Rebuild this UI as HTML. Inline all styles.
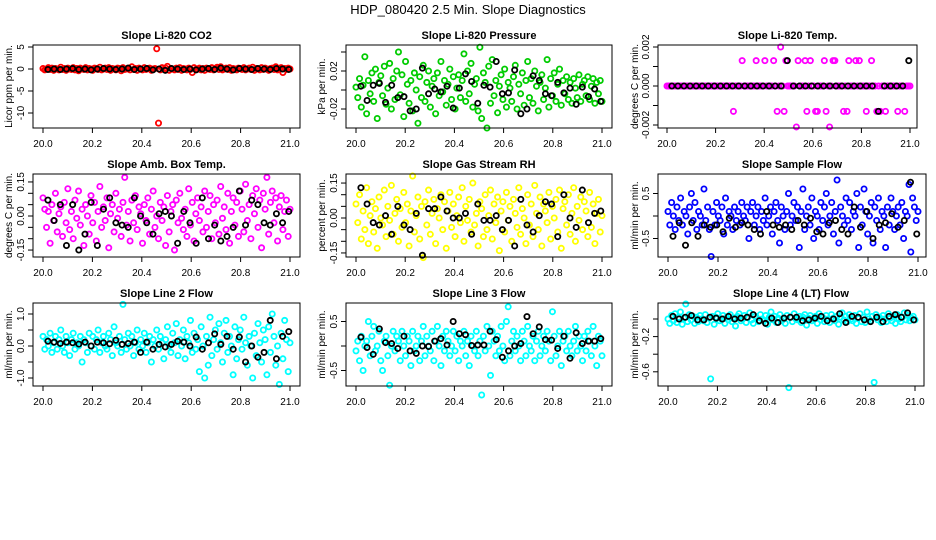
<!DOCTYPE html>
<html><head><meta charset="utf-8"><style>
html,body{margin:0;padding:0;background:#fff;}
svg{display:block;font-family:"Liberation Sans",Arial,sans-serif;}
</style></head><body>
<svg id="chart" width="936" height="540" viewBox="0 0 936 540" xmlns="http://www.w3.org/2000/svg">
<rect width="936" height="540" fill="#fff"/>
<text x="468" y="14" font-size="13" text-anchor="middle">HDP_080420  2.5 Min. Slope Diagnostics</text>
</svg>
<script>
// ---- data ----
const xTickLabels = ["20.0","20.2","20.4","20.6","20.8","21.0"];
const xTickValues = [20.0,20.2,20.4,20.6,20.8,21.0];
const titles = ["Slope Li-820 CO2","Slope Li-820 Pressure","Slope Li-820 Temp.","Slope Amb. Box Temp.","Slope Gas Stream RH","Slope Sample Flow","Slope Line 2 Flow","Slope Line 3 Flow","Slope Line 4 (LT) Flow"];
const yTitles = ["Licor ppm per min.","kPa per min.","degrees C per min.","degrees C per min.","percent per min.","ml/min per min.","ml/min per min.","ml/min per min.","ml/min per min."];
const yTickValues = [[5,0,-5,-10],[0.04,0.02,0,-0.02],[0.002,0.001,0,-0.001,-0.002],[0.15,0.1,0.05,0,-0.05,-0.1,-0.15],[0.15,0.1,0.05,0,-0.05,-0.1,-0.15],[0.5,0,-0.5],[1,0.5,0,-0.5,-1],[0.5,0,-0.5],[0,-0.2,-0.4,-0.6]];
const yTickLabels = [["5","0","-5","-10"],["","0.02","","-0.02"],["0.002","","0.000","","-0.002"],["0.15","","","0.00","","","-0.15"],["0.15","","","0.00","","","-0.15"],["0.5","","-0.5"],["1.0","","0.0","","-1.0"],["0.5","","-0.5"],["","-0.2","","-0.6"]];
const seriesColors = ["#ff0000","#00cc00","#ff00ff","#ff00ff","#ffff00","#0000ff","#00ffff","#00ffff","#00ffff"];

const co2Vals = [0.1,-0.2,0.0,0.3,-0.1,0.2,-0.3,0.1,0.0,-0.2,0.4,-0.1,0.1,-0.3,0.2,0.0,-0.1,0.3,-0.2,0.1,
-0.4,0.2,0.0,-0.1,0.3,-0.2,0.1,0.0,-0.3,0.2,0.1,-0.1,0.4,-0.2,0.0,0.2,-0.1,0.3,-0.3,0.1,
0.0,-0.2,0.2,0.1,-0.4,0.3,-0.1,0.0,0.2,-0.2,0.5,-0.1,0.1,-0.3,0.2,0.0,-0.2,0.3,-0.1,0.1,
0.2,-0.3,0.0,0.1,4.6,-12.3,-0.2,0.3,-0.1,0.2,0.6,-0.3,0.1,0.0,-0.2,0.2,-0.1,0.3,-0.3,0.1,
0.0,-0.2,0.2,-0.1,-0.8,0.3,-0.1,0.0,0.2,-0.2,0.1,-0.3,0.2,0.0,-0.1,0.3,-0.2,0.1,0.4,-0.1,
0.5,-0.2,0.0,0.2,-0.1,0.3,-0.3,0.1,0.0,-0.2,0.2,0.1,-0.1,0.3,-0.2,0.0,0.2,-0.1,0.4,-0.3,
0.1,0.0,-0.2,0.3,-0.1,0.2,0.0,-0.3,0.1,0.2,-0.1,0.5,-0.2,0.0,0.3,-0.8,0.1,-0.1,0.2,0.0];
const co2Avg = [-0.1,0.0,-0.1,0.0,0.1,-0.1,0.0,-0.2,0.0,0.1,0.0,-0.1,0.0,0.2,-0.1,0.0,0.1,-0.2,0.0,-0.3,0.1,0.0,-0.1,0.0,-0.2,0.0,0.1,-0.1,0.2,0.0,-0.2,0.1,0.0,-0.1,0.1,0.0,-0.1,0.1,0.0,-0.1];

const presVals = [0.003,-0.008,0.012,-0.018,0.005,0.035,-0.025,0.010,-0.004,0.018,-0.012,0.022,-0.030,0.008,0.015,-0.006,0.025,-0.015,0.002,0.028,
-0.020,0.012,-0.010,0.020,0.040,-0.005,0.016,-0.028,0.030,0.006,-0.014,0.010,-0.022,0.018,0.000,-0.035,0.014,-0.008,0.026,-0.012,
0.008,0.020,-0.018,0.004,0.012,-0.025,0.018,-0.006,0.030,-0.002,0.010,-0.016,0.006,0.022,-0.010,0.014,-0.020,0.002,0.016,-0.008,
0.010,0.038,-0.012,0.020,-0.004,0.028,-0.018,0.006,0.012,-0.022,0.045,-0.030,0.018,0.008,-0.040,0.025,-0.014,0.032,-0.006,0.010,
-0.024,0.004,0.016,-0.010,0.022,-0.018,0.008,0.002,-0.012,0.014,0.026,-0.020,0.006,-0.004,0.018,-0.016,0.010,0.030,-0.008,0.012,
-0.014,0.020,0.004,-0.022,0.008,0.016,-0.010,0.002,0.032,-0.018,0.012,-0.006,0.018,-0.012,0.006,0.022,-0.016,0.010,-0.004,0.014,
-0.010,0.008,-0.014,0.012,0.002,-0.008,0.016,-0.012,0.006,0.010,-0.006,0.014,-0.010,0.004,0.012,-0.014,0.008,-0.004,0.010,-0.012];
const presAvg = [0.004,-0.011,0.005,0.007,-0.013,0.005,-0.008,-0.007,-0.022,-0.020,0.023,-0.004,0.001,-0.002,0.004,-0.019,0.002,0.017,0.009,-0.014,0.005,0.003,0.030,-0.004,-0.003,0.021,-0.025,-0.020,0.015,0.010,-0.004,-0.006,0.008,-0.003,0.002,-0.015,0.003,-0.007,0.001,-0.012];

const tempVals = [0,0,0,0,0,0,0,0,0,0, 0,0,0,0,0,0,0,0,0,0, 0,0,0,0,0,0,0,0,0,0,
0,0,0,0,0,0,0,0,-0.0013,0, 0,0,0,0.0013,0,0,0,0,0,0, 0,0.0013,0,0,0,0,0.0013,0,0,0,
0,0.0013,0,-0.0013,0,0.002,0,-0.0013,0.0013,0, 0,0,0,0,-0.0021,0.0013,0,0,0,0.0013,
-0.0013,0,0.0013,0,0,-0.0013,-0.0013,0,0,0, 0.0013,-0.0013,0,-0.0021,0,0.0013,0.0013,0,0,0,
0,-0.0013,0,-0.0013,0.0013,0,0,0,0.0013,0, 0.0013,0,0,0,-0.0013,0,0,0.0013,0,0,
-0.0013,0,-0.0013,0,0,-0.0013,0,0,0,0, 0,0,-0.0013,0,0,0,-0.0013,0,0,0];
const tempAvg = [0,0,0,0,0,0,0,0,0,0,0,0,0,0,0,0,0,0,0,0.0013,0,0,0,0,0,0,0,0,0,0,0,0,0,0,-0.0013,0,0,0,0,0.0013];

const boxVals = [0.08,0.03,-0.05,0.02,-0.12,0.05,-0.02,0.10,-0.07,0.01,0.04,-0.09,0.06,-0.03,0.12,-0.06,0.02,-0.10,0.07,-0.01,
0.11,-0.04,0.03,-0.13,0.05,0.00,-0.08,0.09,-0.03,0.06,-0.11,0.02,0.13,-0.05,0.04,-0.02,0.08,-0.14,0.01,0.05,
-0.07,0.10,-0.01,0.03,-0.09,0.06,0.17,-0.04,0.02,-0.11,0.07,-0.03,0.09,-0.06,0.04,0.01,-0.12,0.05,-0.02,0.08,
-0.08,0.03,0.11,-0.05,0.00,-0.10,0.06,-0.02,0.04,-0.13,0.09,-0.07,0.02,0.05,-0.15,0.07,-0.03,0.10,-0.01,-0.06,
0.03,-0.09,0.12,-0.04,0.06,-0.11,0.01,0.08,-0.02,0.04,-0.07,0.11,-0.05,0.02,0.09,-0.10,0.05,-0.03,0.07,-0.08,
0.13,-0.01,0.04,-0.06,0.10,-0.12,0.02,0.08,-0.04,0.06,-0.09,0.11,0.03,-0.07,0.14,-0.02,0.05,-0.10,0.09,0.01,
0.12,-0.05,0.07,-0.14,0.10,0.03,0.17,-0.08,0.06,0.11,-0.03,0.08,-0.11,0.04,0.09,-0.06,0.02,0.07,-0.09,0.03];
const boxAvg = [0.07,-0.02,0.05,-0.13,0.05,-0.15,-0.08,0.06,-0.13,0.03,0.08,-0.03,-0.04,-0.05,0.08,0.00,-0.03,-0.08,0.01,0.02,0.00,-0.12,0.02,-0.03,-0.12,0.08,-0.10,-0.04,-0.11,-0.09,-0.05,0.11,-0.04,0.07,0.05,-0.03,-0.04,0.01,-0.03,0.02];

const rhVals = [0.06,-0.02,0.10,-0.09,0.03,-0.05,0.13,-0.11,0.01,0.07,-0.06,0.04,-0.13,0.09,0.00,-0.03,0.12,-0.08,0.05,-0.01,
0.14,-0.07,0.02,0.08,-0.10,0.04,-0.04,0.11,-0.02,0.06,-0.12,0.03,0.18,-0.06,0.01,0.09,-0.09,0.05,-0.17,0.07,
-0.03,0.12,-0.07,0.02,0.08,-0.11,0.04,0.00,0.10,-0.05,0.07,-0.13,0.03,0.11,-0.04,0.06,-0.08,0.01,0.09,-0.02,
0.13,-0.10,0.05,-0.01,0.08,-0.06,0.15,-0.03,0.02,-0.12,0.07,0.04,-0.08,0.10,-0.05,0.01,0.12,-0.09,0.06,-0.02,
0.09,-0.14,0.03,0.07,-0.06,0.11,-0.01,0.05,-0.10,0.08,0.02,-0.04,0.13,-0.07,0.04,0.00,-0.11,0.10,-0.03,0.06,
-0.08,0.14,0.02,-0.05,0.09,-0.12,0.06,0.03,-0.02,0.11,-0.09,0.05,0.00,0.08,-0.06,0.12,-0.13,0.04,0.07,-0.03,
0.10,-0.07,0.02,0.13,-0.10,0.05,-0.01,0.09,-0.05,0.07,0.03,-0.08,0.11,-0.04,0.06,-0.11,0.02,0.08,-0.06,0.01];
const rhAvg = [0.13,0.06,-0.02,-0.03,0.01,-0.07,0.05,-0.03,-0.05,0.02,-0.16,0.04,0.04,0.09,0.03,0.00,0.00,0.02,-0.07,0.06,-0.01,-0.01,0.01,-0.05,-0.01,-0.12,0.08,-0.03,-0.06,0.01,0.07,0.06,-0.08,0.10,0.00,-0.04,0.12,-0.02,0.02,0.03];

const sampleVals = [0.1,-0.2,0.3,0.0,-0.3,0.2,-0.1,0.4,-0.2,0.1,0.0,-0.4,0.2,0.5,-0.1,0.3,-0.3,0.1,0.0,-0.2,
0.6,-0.1,0.2,-0.3,-0.9,0.1,-0.2,0.3,0.0,-0.1,0.2,-0.4,0.4,-0.2,0.1,0.0,-0.3,0.2,-0.1,0.1,
-0.2,0.3,0.0,-0.1,0.2,-0.5,0.1,0.3,-0.2,0.0,0.2,-0.3,0.1,-0.1,0.4,-0.2,0.0,0.2,-0.4,0.1,
0.3,-0.1,-0.6,0.2,0.0,-0.3,0.1,0.5,-0.2,0.0,0.3,-0.1,0.2,-0.7,0.1,0.6,-0.3,0.0,0.2,-0.2,
0.4,-0.5,0.1,0.0,-0.3,0.3,-0.1,0.2,0.5,-0.2,0.0,0.3,-0.4,0.1,0.8,-0.6,0.2,0.0,-0.2,0.4,
-0.1,0.3,-0.3,0.1,0.0,0.5,-0.7,0.2,-0.2,0.6,0.1,-0.4,0.0,0.3,-0.6,0.2,-0.1,0.4,-0.3,0.1,
0.0,-0.7,0.2,-0.2,0.4,0.1,-0.3,0.0,0.2,-0.2,0.3,-0.5,0.1,0.0,0.7,-0.8,0.4,0.2,-0.1,0.1];
const sampleAvg = [-0.45,-0.15,-0.65,-0.15,-0.45,-0.2,-0.25,-0.2,-0.35,-0.05,-0.25,-0.15,-0.2,-0.3,-0.4,0.1,-0.2,-0.25,-0.2,-0.3,-0.1,-0.2,-0.05,-0.35,-0.4,-0.15,-0.1,-0.3,-0.4,0.2,-0.25,0.1,-0.5,-0.2,-0.15,0.05,-0.25,-0.1,0.75,-0.4];

const line2Vals = [0.3,-0.1,0.2,0.0,0.4,-0.2,0.1,0.3,-0.1,0.2,0.5,0.0,-0.2,0.3,0.1,-0.3,0.2,0.4,-0.1,0.1,
0.0,0.3,-0.5,0.2,0.1,-0.2,0.4,0.0,0.3,-0.1,0.2,0.5,-0.2,0.1,0.3,0.0,-0.1,0.4,0.2,-0.3,
0.6,0.1,0.0,0.3,-0.2,1.3,0.2,-0.1,0.4,0.0,0.3,-0.3,0.1,0.5,-0.1,0.2,0.0,0.4,-0.2,0.1,
0.3,-0.5,0.2,0.0,0.5,-0.1,0.3,0.1,-0.4,0.2,0.6,0.0,-0.2,0.4,0.1,0.7,-0.3,0.2,0.0,0.5,
-0.4,0.3,0.1,0.8,-0.2,0.4,-0.1,0.2,-0.8,0.6,0.0,-1.0,0.3,-0.6,0.9,-0.3,0.2,0.5,-0.1,0.7,
0.1,-0.5,0.4,0.8,-0.2,0.3,0.0,-0.9,0.6,-0.4,0.2,0.5,-0.1,0.9,0.1,-0.6,0.3,0.0,-1.0,0.4,
-0.3,0.7,0.1,-0.5,0.5,0.2,-0.9,0.6,-0.2,1.0,0.3,-0.6,0.0,-1.2,0.4,-0.4,0.8,0.2,-0.8,0.1];
const line2Avg = [0.15,0.12,0.08,0.12,0.1,0.06,0.12,0.0,0.12,0.1,0.07,0.18,0.05,0.08,0.12,-0.2,0.12,-0.1,0.05,-0.03,0.05,0.15,0.12,0.0,0.28,-0.1,0.1,0.38,0.05,0.3,-0.1,0.28,-0.5,0.0,-0.35,-0.2,0.8,-0.4,0.3,0.45];

const line3Vals = [-0.1,0.1,-0.3,0.2,-0.5,0.0,0.1,0.5,-0.2,0.2,0.4,-0.1,0.0,0.3,-0.3,-0.5,0.1,0.2,-0.2,-0.8,
0.0,0.3,-0.1,0.2,0.1,-0.3,0.3,0.0,-0.2,0.2,0.1,-0.4,0.3,-0.1,0.0,0.2,-0.3,0.1,0.4,-0.2,
0.2,0.0,-0.1,0.3,-0.3,0.1,0.4,0.0,-0.4,0.2,-0.1,0.3,0.1,-0.2,0.0,0.3,-0.1,0.2,-0.3,0.1,
0.0,0.3,-0.2,0.1,-0.4,0.2,0.0,-0.1,0.3,-0.2,0.1,-1.0,0.2,-0.1,0.4,0.0,-0.6,0.3,0.1,-0.2,
0.2,-0.1,0.4,0.0,-0.3,0.5,0.8,-0.2,0.1,0.3,-0.1,0.2,0.0,-0.3,0.3,0.1,-0.2,0.4,0.0,-0.1,
0.2,-0.3,0.1,0.3,-0.2,0.0,0.2,-0.1,0.3,0.1,-0.3,0.7,0.2,-0.2,0.0,0.3,-0.4,0.1,0.2,-0.1,
0.3,0.0,-0.2,0.1,0.4,-0.1,0.2,0.0,-0.3,0.2,-0.1,0.3,0.1,-0.2,0.4,0.0,-0.4,0.2,0.1,-0.2];
const line3Avg = [0.18,-0.03,-0.17,0.35,0.07,0.05,-0.05,0.2,-0.1,-0.15,0.0,-0.01,0.1,0.15,0.02,0.5,0.25,0.23,0.01,0.02,0.02,0.3,0.13,-0.23,-0.1,0.0,0.05,0.6,0.25,0.39,0.13,0.12,-0.05,0.2,-0.25,0.27,0.05,0.1,0.1,0.15];

const line4Vals = [0.0,-0.05,0.04,-0.02,0.06,-0.04,0.02,0.08,-0.06,0.01,0.17,-0.03,0.05,-0.01,0.03,-0.05,0.02,-0.03,0.04,0.0,
-0.02,0.05,-0.04,0.01,-0.68,0.03,-0.06,0.02,0.06,-0.02,0.0,0.04,-0.05,0.02,-0.01,0.05,-0.03,0.01,-0.08,0.03,
0.06,-0.02,0.0,0.04,-0.04,0.02,0.07,-0.01,-0.05,0.03,0.01,-0.03,0.05,0.0,-0.02,0.04,-0.06,0.02,0.08,-0.01,
0.03,-0.04,0.01,0.05,-0.02,0.0,-0.05,0.04,-0.78,0.02,-0.03,0.06,0.0,-0.01,0.03,-0.04,0.02,0.05,-0.07,0.01,
0.04,-0.02,0.0,0.03,-0.05,0.06,-0.01,0.02,-0.03,0.04,0.0,-0.04,0.05,0.01,-0.02,0.03,-0.06,0.02,0.07,-0.01,
0.03,-0.03,0.05,0.0,-0.02,0.04,-0.05,0.01,0.06,-0.03,0.02,-0.04,0.08,0.0,-0.02,0.03,-0.72,0.05,-0.01,0.02,
-0.04,0.04,0.0,-0.03,0.06,0.01,-0.02,0.03,-0.05,0.05,0.0,-0.03,0.02,0.07,-0.01,0.04,-0.02,0.01,0.03,-0.01];
const line4Avg = [0.03,0.0,0.02,0.04,-0.01,-0.01,0.02,0.01,0.0,0.03,0.0,0.01,0.02,0.05,-0.02,-0.05,0.01,-0.04,0.01,0.02,0.02,-0.02,-0.01,0.01,0.03,-0.02,0.0,0.06,-0.04,0.03,0.02,-0.01,-0.03,0.02,-0.03,0.03,0.05,0.02,0.07,-0.01];

const allVals = [co2Vals,presVals,tempVals,boxVals,rhVals,sampleVals,line2Vals,line3Vals,line4Vals];
const allAvg = [co2Avg,presAvg,tempAvg,boxAvg,rhAvg,sampleAvg,line2Avg,line3Avg,line4Avg];

// ---- layout (pixel geometry, not data) ----
const layout = [
 {l:33,r:300,t:45,b:128,x0:43,x1:290,y0:69,ppu:4.4,yt:8},
 {l:346,r:612,t:45,b:128,x0:356,x1:602,y0:90,ppu:950,yt:321},
 {l:658,r:917,t:45,b:128,x0:667,x1:910,y0:86,ppu:19500,yt:634},
 {l:33,r:300,t:174,b:257,x0:43,x1:290,y0:216,ppu:227,yt:8},
 {l:346,r:612,t:174,b:257,x0:356,x1:602,y0:218,ppu:233,yt:321},
 {l:658,r:926,t:174,b:257,x0:668,x1:918,y0:216,ppu:45,yt:634},
 {l:33,r:300,t:303,b:386,x0:43,x1:290,y0:346,ppu:32,yt:8},
 {l:346,r:612,t:303,b:386,x0:356,x1:602,y0:346,ppu:49,yt:321},
 {l:658,r:924,t:303,b:386,x0:668,x1:915,y0:319,ppu:88,yt:634}
];
const NS='http://www.w3.org/2000/svg';
const svg=document.getElementById('chart');
function mk(tag,attrs,parent){const e=document.createElementNS(NS,tag);for(const k in attrs)e.setAttribute(k,attrs[k]);(parent||svg).appendChild(e);return e;}

layout.forEach((L,p)=>{
  const g=mk('g',{});
  
  
  const xs=v=>L.x0+(v-20)*(L.x1-L.x0);
  const ys=v=>L.y0-v*L.ppu;
  const t=mk('text',{x:(L.l+L.r)/2,y:L.t-6,'font-size':11,'font-weight':'bold','text-anchor':'middle'},g);
  t.textContent=titles[p];
  
  
  const yt=mk('text',{x:0,y:0,'font-size':10,'text-anchor':'middle',transform:`translate(${L.yt+4},${(L.t+L.b)/2}) rotate(-90)`},g);
  yt.textContent=yTitles[p];
  
  
  const xa=mk('g',{},g);
  
  
  mk('line',{x1:xs(20),x2:xs(21),y1:L.b,y2:L.b,stroke:'#000','stroke-width':1},xa);
  xTickValues.forEach((v,i)=>{
    mk('line',{x1:xs(v),x2:xs(v),y1:L.b,y2:L.b+5,stroke:'#000','stroke-width':1},xa);
    const tl=mk('text',{x:xs(v),y:L.b+19,'font-size':10,'text-anchor':'middle'},xa);
    tl.textContent=xTickLabels[i];
    
    
  });
  const ya=mk('g',{},g);
  
  
  const tv=yTickValues[p];
  mk('line',{x1:L.l,x2:L.l,y1:ys(tv[0]),y2:ys(tv[tv.length-1]),stroke:'#000','stroke-width':1},ya);
  tv.forEach((v,i)=>{
    mk('line',{x1:L.l-5,x2:L.l,y1:ys(v),y2:ys(v),stroke:'#000','stroke-width':1},ya);
    if(yTickLabels[p][i]){
      const tl=mk('text',{x:0,y:0,'font-size':10,'text-anchor':'middle',transform:`translate(${L.l-9},${ys(v)}) rotate(-90)`},ya);
      tl.textContent=yTickLabels[p][i];
      
      
    }
  });
  const vals=allVals[p], n=vals.length;
  const sg=mk('g',{fill:'none',stroke:seriesColors[p],'stroke-width':1.8},g);
  
  
  vals.forEach((v,i)=>{
    const c=mk('circle',{cx:xs(20+i/(n-1)),cy:ys(v),r:2.6},sg);
    
    
  });
  const avg=allAvg[p], m=avg.length;
  const kg=mk('g',{fill:'none',stroke:'#000','stroke-width':1.8},g);
  
  
  avg.forEach((v,j)=>{
    const c=mk('circle',{cx:xs(20.02+j*0.975/(m-1)),cy:ys(v),r:2.6},kg);
    
    
  });
  const box=mk('rect',{x:L.l,y:L.t,width:L.r-L.l,height:L.b-L.t,fill:'none',stroke:'#000','stroke-width':1},g);
  
  
});
</script>
</body></html>
